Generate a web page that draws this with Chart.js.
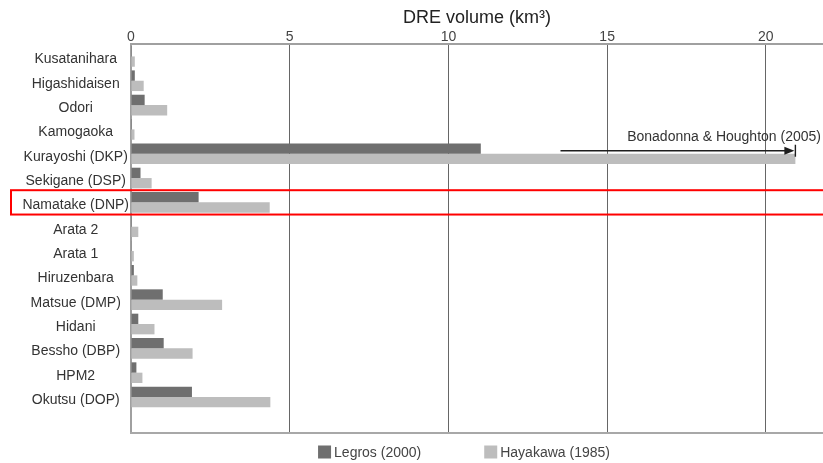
<!DOCTYPE html>
<html>
<head>
<meta charset="utf-8">
<script src="https://cdn.jsdelivr.net/npm/chart.js@4.4.1/dist/chart.umd.min.js"></script>
<style>
html,body{margin:0;padding:0;background:#fff;}
#wrap{width:823px;height:463px;position:relative;}
</style>
</head>
<body>
<div id="wrap"><canvas id="c" width="823" height="463"></canvas></div>
<script>
const categories = ["Kusatanihara","Higashidaisen","Odori","Kamogaoka","Kurayoshi (DKP)","Sekigane (DSP)","Namatake (DNP)","Arata 2","Arata 1","Hiruzenbara","Matsue (DMP)","Hidani","Bessho (DBP)","HPM2","Okutsu (DOP)"];
const legros2000 = [0.03,0.12,0.43,0.03,11.02,0.30,2.13,0.03,0.01,0.09,1.00,0.23,1.03,0.17,1.92];
const hayakawa1985 = [0.12,0.40,1.14,0.11,20.93,0.65,4.37,0.23,0.09,0.20,2.87,0.74,1.94,0.36,4.39];
const seriesNames = ["Legros (2000)","Hayakawa (1985)"];
const xTicks = [0,5,10,15,20];
const axisTitle = "DRE volume (km³)";
const noteText = "Bonadonna & Houghton (2005)";
const noteCategory = "Kurayoshi (DKP)";
const highlightCategory = "Namatake (DNP)";
const arrowStartValue = 13.53;
const noteTextStart = 15.63;

const FONT = "'Liberation Sans', Arial, Helvetica, sans-serif";
const DARK = "#6f6f6f", LIGHT = "#bdbdbd";
const YMIN = -0.51, YMAX = 15.48;

const annotationPlugin = {
  id: 'annot',
  afterDatasetsDraw(chart) {
    const ctx = chart.ctx, xs = chart.scales.x, ys = chart.scales.y, a = chart.chartArea;
    ctx.save();
    ctx.strokeStyle = "#a8a8a8"; ctx.lineWidth = 2;
    ctx.beginPath(); ctx.moveTo(a.left - 1, a.bottom); ctx.lineTo(a.right, a.bottom); ctx.stroke();
    const idx = categories.indexOf(noteCategory);
    const y = ys.getPixelForValue(idx) - 3;
    const x0 = xs.getPixelForValue(arrowStartValue);
    const x1 = xs.getPixelForValue(hayakawa1985[idx]);
    ctx.strokeStyle = "#1e1e1e"; ctx.fillStyle = "#1e1e1e"; ctx.lineWidth = 1.4;
    ctx.beginPath(); ctx.moveTo(x0, y); ctx.lineTo(x1 - 8, y); ctx.stroke();
    ctx.beginPath(); ctx.moveTo(x1 - 1, y); ctx.lineTo(x1 - 11, y - 4); ctx.lineTo(x1 - 11, y + 4); ctx.closePath(); ctx.fill();
    ctx.beginPath(); ctx.moveTo(x1, y - 6); ctx.lineTo(x1, y + 6); ctx.stroke();
    ctx.font = "14px " + FONT; ctx.fillStyle = "#333"; ctx.textAlign = "left"; ctx.textBaseline = "middle";
    ctx.fillText(noteText, xs.getPixelForValue(noteTextStart), y - 14);
    ctx.restore();
  },
  afterDraw(chart) {
    const ctx = chart.ctx, ys = chart.scales.y;
    ctx.save();
    // highlight box around one category row
    const hi = categories.indexOf(highlightCategory);
    const yTop = ys.getPixelForValue(hi - 0.5), yBot = ys.getPixelForValue(hi + 0.5);
    ctx.strokeStyle = "#ff0000"; ctx.lineWidth = 2;
    ctx.strokeRect(11, yTop, chart.width + 10, yBot - yTop);
    // legend
    ctx.font = "14px " + FONT; ctx.textBaseline = "middle"; ctx.textAlign = "left";
    const box = 13, gap = 3, spacing = 63;
    const widths = seriesNames.map(s => ctx.measureText(s).width);
    const total = widths.reduce((s, w) => s + box + gap + w, 0) + spacing * (seriesNames.length - 1);
    let x = 464 - total / 2;
    const yc = 452;
    chart.data.datasets.forEach((ds, i) => {
      ctx.fillStyle = ds.backgroundColor;
      ctx.fillRect(x, yc - box / 2, box, box);
      ctx.fillStyle = "#444";
      ctx.fillText(seriesNames[i], x + box + gap, yc + 1);
      x += box + gap + widths[i] + spacing;
    });
    ctx.restore();
  }
};

new Chart(document.getElementById('c'), {
  type: 'bar',
  data: {
    datasets: [
      { label: seriesNames[0], data: categories.map((c, i) => ({ y: i, x: legros2000[i] })), backgroundColor: DARK, borderWidth: 0 },
      { label: seriesNames[1], data: categories.map((c, i) => ({ y: i, x: hayakawa1985[i] })), backgroundColor: LIGHT, borderWidth: 0 }
    ]
  },
  options: {
    indexAxis: 'y',
    responsive: false,
    animation: false,
    devicePixelRatio: 1,
    layout: { padding: { left: 0, right: 0, top: 0, bottom: 30 } },
    datasets: { bar: { categoryPercentage: 0.85, barPercentage: 1.0 } },
    plugins: { legend: { display: false }, tooltip: { enabled: false } },
    scales: {
      x: {
        type: 'linear', position: 'top', min: 0, max: 21.8, bounds: 'data',
        afterBuildTicks: s => { s.ticks = xTicks.map(v => ({ value: v })); s.min = 0; s.max = 21.8; },
        afterFit: s => { s.height = 44; },
        ticks: { font: { size: 14, family: FONT }, color: "#444", padding: -2, includeBounds: false },
        grid: {
          drawTicks: false,
          color: ctx => (ctx.tick && ctx.tick.value === 0) ? 'rgba(0,0,0,0)' : '#666',
          lineWidth: 1
        },
        border: { display: true, color: '#a0a0a0', width: 2 },
        title: { display: true, text: axisTitle, font: { size: 18, family: FONT }, color: "#222", padding: { top: 7, bottom: 0 } }
      },
      y: {
        type: 'linear', reverse: true, min: YMIN, max: YMAX, bounds: 'data', offset: false,
        afterBuildTicks: s => { s.ticks = categories.map((c, i) => ({ value: i })); s.min = YMIN; s.max = YMAX; },
        afterFit: s => { s.width = 131; },
        ticks: {
          autoSkip: false, crossAlign: 'center', padding: 2, labelOffset: 3,
          font: { size: 14, family: FONT }, color: "#333",
          callback: v => categories[v]
        },
        grid: { display: false, drawTicks: false, offset: false },
        border: { display: true, color: '#a0a0a0', width: 2 }
      }
    }
  },
  plugins: [annotationPlugin]
});
</script>
</body>
</html>
